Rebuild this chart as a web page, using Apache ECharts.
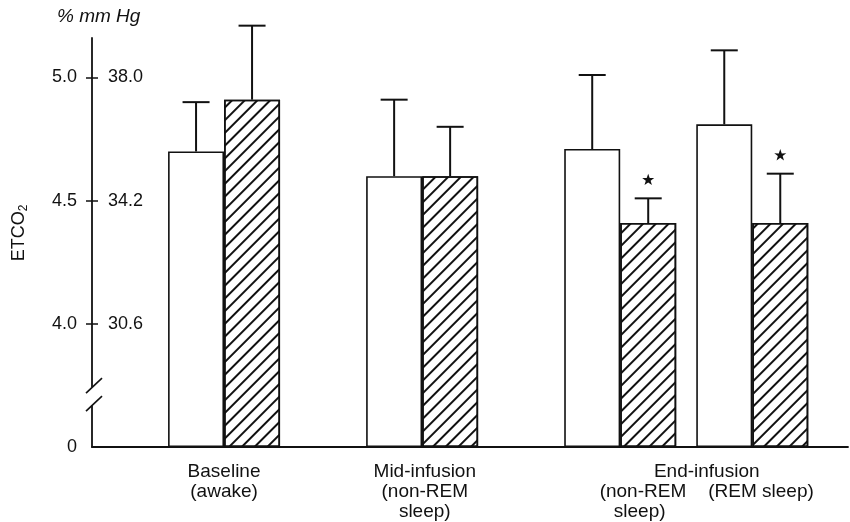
<!DOCTYPE html>
<html>
<head>
<meta charset="utf-8">
<script src="https://cdn.jsdelivr.net/npm/echarts@6/dist/echarts.min.js"></script>
<style>html,body{margin:0;padding:0;background:#fff}#c{width:850px;height:522px}</style>
</head>
<body>
<div id="c"></div>
<script>
// ---- data ----
const groups = ['Baseline (awake)', 'Mid-infusion (non-REM sleep)', 'End-infusion (non-REM sleep)', 'End-infusion (REM sleep)'];
const groupX = [2, 5, 8, 10];
const controlVals = [4.70, 4.60, 4.71, 4.81];
const controlErr  = [0.20, 0.31, 0.30, 0.30];
const infusionVals = [4.91, 4.60, 4.41, 4.41];
const infusionErr  = [0.30, 0.20, 0.10, 0.20];
const infusionSig  = [0, 0, 1, 1];
const pctTicks  = [0, 4.0, 4.5, 5.0];
const pctLabels = ['0', '4.0', '4.5', '5.0'];
const mmTicks   = [4.0, 4.5, 5.0];
const mmLabels  = ['30.6', '34.2', '38.0'];
const xLabelPos = [2, 5.04, 9.31];
const xLabels   = [
  '{t|Baseline}\n{t|(awake)}',
  '{t|Mid-infusion}\n{t|(non-REM}\n{t|sleep)}',
  '{t|End-infusion}\n{t|(non-REM}{g| }{t|(REM sleep)}\n{t|sleep)}{p| }'
];
const axisBreak = { start: 0.17, end: 3.745, gap: 0.073 };

// ---- style ----
const INK = '#111';
const FONT = 'Liberation Sans, Arial, sans-serif';
const BAR_W = 56;
const CAP = 27;
const STAR = 'M50,0 L61.8,35.1 L97.6,34.5 L69,56.7 L79.4,90.5 L50,70 L20.6,90.5 L31,56.7 L2.4,34.5 L38.2,35.1 Z';

function pick(list, labels, v) {
  for (let i = 0; i < list.length; i++) if (Math.abs(list[i] - v) < 1e-6) return labels[i];
  return '';
}

function errRender(side) {
  return function (params, api) {
    const x = api.value(0), v = api.value(1), e = api.value(2), sig = api.value(3);
    const base = api.coord([x, v]);
    const top = api.coord([x, v + e]);
    const cx = base[0] + side * BAR_W / 2;
    const ch = [
      { type: 'line', shape: { x1: cx, y1: base[1], x2: cx, y2: top[1] }, style: { stroke: INK, lineWidth: 2 } },
      { type: 'line', shape: { x1: cx - CAP / 2, y1: top[1], x2: cx + CAP / 2, y2: top[1] }, style: { stroke: INK, lineWidth: 2 } }
    ];
    if (sig) ch.push({ type: 'path', shape: { pathData: STAR, x: cx - 6, y: top[1] - 25, width: 12, height: 12 }, style: { fill: INK } });
    return { type: 'group', children: ch };
  };
}

const yBase = {
  type: 'value', min: 0, max: 5.16, position: 'left',
  breaks: [axisBreak],
  breakArea: { show: false },
  splitLine: { show: false }
};

const chart = echarts.init(document.getElementById('c'));
chart.setOption({
  animation: false,
  backgroundColor: '#fff',
  title: {
    text: '% mm Hg', left: 57, top: 7, padding: 0,
    textStyle: { fontStyle: 'italic', fontWeight: 'normal', fontSize: 19, color: INK, fontFamily: FONT }
  },
  grid: { left: 92, right: 2, top: 38, bottom: 75, outerBoundsMode: 'none' },
  xAxis: {
    type: 'value', min: 0, max: 11.45,
    axisLine: { show: true, lineStyle: { color: INK, width: 1.8 } },
    axisTick: { show: false },
    splitLine: { show: false },
    axisLabel: {
      customValues: xLabelPos,
      hideOverlap: false,
      formatter: v => pick(xLabelPos, xLabels, v),
      color: INK, fontSize: 19, lineHeight: 20, fontFamily: FONT, margin: 15,
      rich: {
        t: { fontSize: 19, lineHeight: 20, fontFamily: FONT, color: INK },
        g: { width: 22, fontSize: 19, lineHeight: 20 },
        p: { width: 134, fontSize: 19, lineHeight: 20 }
      }
    }
  },
  yAxis: [
    Object.assign({}, yBase, {
      axisLine: { show: true, lineStyle: { color: INK, width: 1.8 } },
      axisTick: { show: true, length: 6, customValues: mmTicks, lineStyle: { color: INK, width: 1.5 } },
      axisLabel: { customValues: pctTicks, formatter: v => pick(pctTicks, pctLabels, v), margin: 15, color: INK, fontSize: 18, fontFamily: FONT }
    }),
    Object.assign({}, yBase, {
      axisLine: { show: false },
      axisTick: { show: true, inside: true, length: 6, customValues: mmTicks, lineStyle: { color: INK, width: 1.5 } },
      axisLabel: { inside: true, customValues: mmTicks, formatter: v => pick(mmTicks, mmLabels, v), margin: 16, color: INK, fontSize: 18, fontFamily: FONT }
    })
  ],
  series: [
    {
      name: 'control', type: 'bar', barWidth: BAR_W, barGap: '0%',
      data: groupX.map((x, i) => [x, controlVals[i]]),
      itemStyle: { color: '#fff', borderColor: INK, borderWidth: 1.6 }
    },
    {
      name: 'infusion', type: 'bar', barWidth: BAR_W, barGap: '0%',
      data: groupX.map((x, i) => [x, infusionVals[i]]),
      itemStyle: {
        color: '#fff', borderColor: INK, borderWidth: 1.6,
        decal: { symbol: 'rect', symbolSize: 1, dashArrayX: [1, 0], dashArrayY: [1.4, 6.4], rotation: -Math.PI / 4, color: INK }
      }
    },
    {
      type: 'custom', renderItem: errRender(-1), clip: false, z: 3,
      data: groupX.map((x, i) => [x, controlVals[i], controlErr[i], 0])
    },
    {
      type: 'custom', renderItem: errRender(1), clip: false, z: 3,
      data: groupX.map((x, i) => [x, infusionVals[i], infusionErr[i], infusionSig[i]])
    }
  ]
});

// axis-break marks on the y axis line
const ax = chart.convertToPixel({ xAxisIndex: 0 }, 0);
const yE = chart.convertToPixel({ yAxisIndex: 0 }, axisBreak.end);
const yS = chart.convertToPixel({ yAxisIndex: 0 }, axisBreak.start);
chart.setOption({
  graphic: [
    { type: 'rect', shape: { x: ax - 4, y: yE, width: 8, height: yS - yE }, style: { fill: '#fff' }, z: 50 },
    { type: 'line', shape: { x1: ax - 6, y1: yE + 6, x2: ax + 10, y2: yE - 9 }, style: { stroke: INK, lineWidth: 1.6 }, z: 51 },
    { type: 'line', shape: { x1: ax - 6, y1: yS + 6, x2: ax + 10, y2: yS - 9 }, style: { stroke: INK, lineWidth: 1.6 }, z: 51 },
    {
      type: 'text', x: 19, y: 233, rotation: Math.PI / 2, z: 51,
      style: {
        text: '{a|ETCO}{b|2}', align: 'center', verticalAlign: 'middle',
        rich: { a: { fontSize: 18, fontFamily: FONT, fill: INK, lineHeight: 22 }, b: { fontSize: 12, fontFamily: FONT, fill: INK, verticalAlign: 'bottom', lineHeight: 22 } }
      }
    }
  ]
});
</script>
</body>
</html>
